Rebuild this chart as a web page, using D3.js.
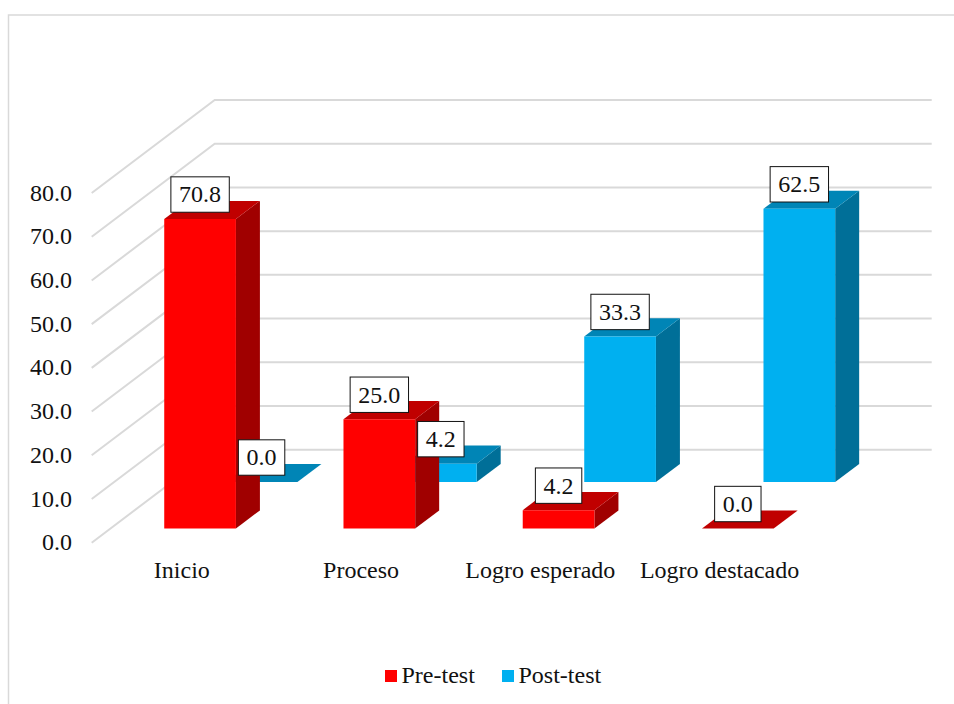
<!DOCTYPE html>
<html lang="en">

<head>
    <meta charset="UTF-8">
    <title>Pre-test / Post-test</title>
    <style>
        html, body { margin: 0; padding: 0; background: #fff; overflow: hidden; }
        svg { display: block; }
        text { font-family: "Liberation Serif", serif; font-size: 24px; fill: #111; }
    </style>
</head>

<body>
    <div id="chart"></div>

    <script src="https://d3js.org/d3.v7.min.js"></script>
    <script>
        var categories = ["Inicio", "Proceso", "Logro esperado", "Logro destacado"];
        var seriesNames = ["Pre-test", "Post-test"];
        var preTest = [70.8, 25.0, 4.2, 0.0];
        var postTest = [0.0, 4.2, 33.3, 62.5];
        var yTicks = [0, 10, 20, 30, 40, 50, 60, 70, 80];
        var frontColors = ["#ff0000", "#00b0f0"];
        var topColors = ["#c00000", "#0085b6"];
        var sideColors = ["#a00000", "#006f98"];

        var width = 954, height = 704;
        var depthX = 123, depthY = 93;

        var svg = d3.select("#chart").append("svg")
            .attr("width", width)
            .attr("height", height);

        // chart frame, right and bottom edges run off the picture
        svg.append("rect")
            .attr("x", 8.5).attr("y", 15)
            .attr("width", 1000).attr("height", 1000)
            .attr("fill", "none")
            .attr("stroke", "#d9d9d9")
            .attr("stroke-width", 1.5);

        var x = d3.scaleBand()
            .domain(categories)
            .range([91.7, 808.7])
            .paddingInner(0.6)
            .paddingOuter(0.3);

        var y = d3.scaleLinear()
            .domain([0, 80])
            .range([542.7, 193]);

        // depth axis, 0 is the front of the floor and 1 the back wall
        var z = d3.scaleBand()
            .domain(seriesNames)
            .range([0, 1])
            .paddingInner(0.61)
            .paddingOuter(0.305);

        function px(xv, d) { return xv + d * depthX; }
        function py(v, d) { return y(v) - d * depthY; }

        function poly(points) {
            return d3.line()(points);
        }

        // gridlines: side wall then back wall
        svg.append("g").selectAll("path")
            .data(yTicks)
            .enter().append("path")
            .attr("d", function (t) {
                return poly([
                    [px(x.range()[0], 0), py(t, 0)],
                    [px(x.range()[0], 1), py(t, 1)],
                    [px(x.range()[1], 1), py(t, 1)]
                ]);
            })
            .attr("fill", "none")
            .attr("stroke", "#d9d9d9")
            .attr("stroke-width", 2);

        var bars = [];
        seriesNames.forEach(function (s, si) {
            var values = si === 0 ? preTest : postTest;
            categories.forEach(function (c, ci) {
                bars.push({ series: s, si: si, category: c, value: values[ci] });
            });
        });

        function corners(d) {
            var x0 = x(d.category), x1 = x0 + x.bandwidth();
            var d0 = z(d.series), d1 = d0 + z.bandwidth();
            return { x0: x0, x1: x1, d0: d0, d1: d1 };
        }

        // back series first so the front bars cover it
        var barGroups = svg.append("g").selectAll("g")
            .data(bars.slice().sort(function (a, b) { return b.si - a.si; }))
            .enter().append("g")
            .attr("class", "bar");

        barGroups.append("path")
            .attr("fill", function (d) { return sideColors[d.si]; })
            .attr("d", function (d) {
                var c = corners(d);
                return poly([
                    [px(c.x1, c.d0), py(0, c.d0)],
                    [px(c.x1, c.d1), py(0, c.d1)],
                    [px(c.x1, c.d1), py(d.value, c.d1)],
                    [px(c.x1, c.d0), py(d.value, c.d0)]
                ]) + "Z";
            });

        barGroups.append("path")
            .attr("fill", function (d) { return topColors[d.si]; })
            .attr("d", function (d) {
                var c = corners(d);
                return poly([
                    [px(c.x0, c.d0), py(d.value, c.d0)],
                    [px(c.x1, c.d0), py(d.value, c.d0)],
                    [px(c.x1, c.d1), py(d.value, c.d1)],
                    [px(c.x0, c.d1), py(d.value, c.d1)]
                ]) + "Z";
            });

        barGroups.append("path")
            .attr("fill", function (d) { return frontColors[d.si]; })
            .attr("d", function (d) {
                var c = corners(d);
                return poly([
                    [px(c.x0, c.d0), py(0, c.d0)],
                    [px(c.x1, c.d0), py(0, c.d0)],
                    [px(c.x1, c.d0), py(d.value, c.d0)],
                    [px(c.x0, c.d0), py(d.value, c.d0)]
                ]) + "Z";
            });

        // value labels in white boxes
        var labels = svg.append("g").selectAll("g")
            .data(bars)
            .enter().append("g")
            .attr("transform", function (d) {
                var c = corners(d);
                var cx = px(c.x0 + x.bandwidth() / 2, c.d0);
                var cy = py(d.value, c.d0) - 24.5;
                return "translate(" + cx + "," + cy + ")";
            });

        labels.append("text")
            .attr("text-anchor", "middle")
            .attr("dy", "0.33em")
            .text(function (d) { return d.value.toFixed(1); });

        labels.insert("rect", "text")
            .attr("fill", "#fff")
            .attr("stroke", "#111")
            .attr("stroke-width", 1)
            .each(function () {
                var t = d3.select(this.parentNode).select("text").node().getComputedTextLength();
                var w = t + 16.4;
                d3.select(this)
                    .attr("x", -w / 2).attr("y", -17.7)
                    .attr("width", w).attr("height", 35.4);
            });

        // axes
        var yAxis = svg.append("g")
            .attr("transform", "translate(92,-1.5)")
            .call(d3.axisLeft(y)
                .tickValues(yTicks)
                .tickSize(0)
                .tickPadding(20)
                .tickFormat(d3.format(".1f")));
        yAxis.select(".domain").remove();
        yAxis.selectAll("text").attr("dy", "0.36em").style("font-size", "24px");

        var xAxis = svg.append("g")
            .attr("transform", "translate(0.5,547)")
            .call(d3.axisBottom(x).tickSize(0).tickPadding(14));
        xAxis.select(".domain").remove();
        xAxis.selectAll("text").attr("dy", "0.71em").style("font-size", "24px");

        // legend
        var legendX = [385, 502];
        var legend = svg.append("g").selectAll("g")
            .data(seriesNames)
            .enter().append("g")
            .attr("transform", function (d, i) { return "translate(" + legendX[i] + ",670)"; });

        legend.append("rect")
            .attr("width", 12).attr("height", 12)
            .attr("fill", function (d, i) { return frontColors[i]; });

        legend.append("text")
            .attr("x", 16.5)
            .attr("y", 12.5)
            .text(function (d) { return d; });
    </script>
</body>

</html>
